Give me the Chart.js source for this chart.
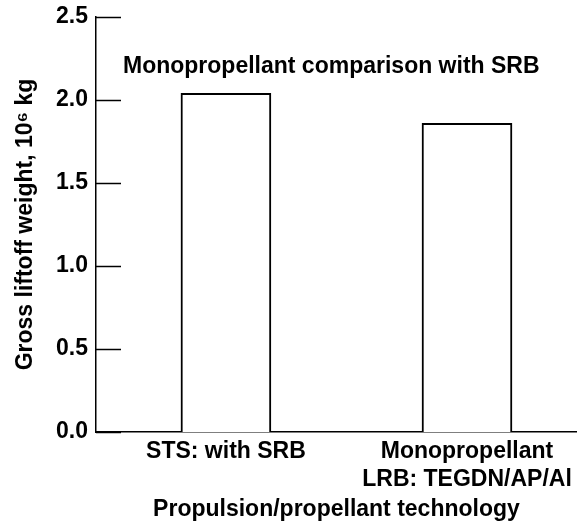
<!DOCTYPE html>
<html>
<head>
<meta charset="utf-8">
<script src="https://cdn.jsdelivr.net/npm/chart.js@4"></script>
<style>
  html, body { margin: 0; padding: 0; background: #fff; }
  #wrap { width: 578px; height: 527px; }
</style>
</head>
<body>
<div id="wrap"><canvas id="canvas-bar"></canvas></div>
<script>
var categories = ['STS: with SRB', ['Monopropellant', 'LRB: TEGDN/AP/Al']]
var positions = [0, 1]
var weights = [2.04, 1.86]
var yTicks = [0, 0.5, 1.0, 1.5, 2.0, 2.5]

var FONT = '"Liberation Sans", Arial, sans-serif'

window.addEventListener('DOMContentLoaded', function () {
  var ctx = document.getElementById('canvas-bar').getContext('2d')

  // tick marks point into the plot, plus the title inside the plot
  var innerTicks = {
    id: 'innerTicks',
    afterDraw: function (chart) {
      var c = chart.ctx
      var y = chart.scales.y
      var left = chart.chartArea.left
      c.save()
      c.strokeStyle = '#000'
      c.lineWidth = 1.5
      yTicks.forEach(function (v) {
        var py = Math.round(y.getPixelForValue(v)) + 0.5
        c.beginPath()
        c.moveTo(left, py)
        c.lineTo(left + 25, py)
        c.stroke()
      })
      c.fillStyle = '#000'
      c.font = 'bold 23px ' + FONT
      c.textAlign = 'left'
      c.textBaseline = 'middle'
      c.fillText('Monopropellant comparison with SRB', left + 27, y.getPixelForValue(2.2))
      c.restore()
    }
  }

  new Chart(ctx, {
    type: 'bar',
    data: {
      datasets: [
        {
          data: positions.map(function (p, i) { return { x: p, y: weights[i] } }),
          backgroundColor: '#fff',
          borderColor: '#000',
          borderWidth: 2,
          barThickness: 90
        }
      ]
    },
    options: {
      responsive: true,
      maintainAspectRatio: false,
      animation: false,
      layout: { padding: { top: 17, right: 1, left: 0, bottom: 0 } },
      scales: {
        x: {
          type: 'linear',
          min: -0.539,
          max: 1.456,
          offset: false,
          afterBuildTicks: function (scale) {
            scale.ticks = positions.map(function (p) { return { value: p } })
          },
          afterFit: function (scale) { scale.height = 95 },
          grid: { display: false, drawTicks: false },
          border: { color: '#000', width: 1.5 },
          ticks: {
            color: '#000',
            font: { family: FONT, size: 23, weight: 'bold' },
            padding: 6,
            maxRotation: 0,
            autoSkip: false,
            callback: function (v) { return categories[positions.indexOf(v)] }
          },
          title: {
            display: true,
            text: 'Propulsion/propellant technology',
            color: '#000',
            font: { family: FONT, size: 23, weight: 'bold' },
            padding: { top: 0, bottom: 4 }
          }
        },
        y: {
          min: 0,
          max: 2.5,
          afterBuildTicks: function (scale) {
            scale.ticks = yTicks.map(function (v) { return { value: v } })
          },
          afterFit: function (scale) {
            scale.width = 96
            scale.paddingTop = 0
            scale.paddingBottom = 0
          },
          grid: { display: false, drawTicks: false },
          border: { color: '#000', width: 1.5 },
          ticks: {
            color: '#000',
            font: { family: FONT, size: 23, weight: 'bold' },
            padding: 8,
            callback: function (v) { return v.toFixed(1) }
          },
          title: {
            display: true,
            text: 'Gross liftoff weight, 10\u2076 kg',
            color: '#000',
            font: { family: FONT, size: 23, weight: 'bold' },
            padding: { top: 12, bottom: 0 }
          }
        }
      },
      plugins: {
        legend: false,
        tooltip: { enabled: false }
      }
    },
    plugins: [innerTicks]
  })
})
</script>
</body>
</html>
